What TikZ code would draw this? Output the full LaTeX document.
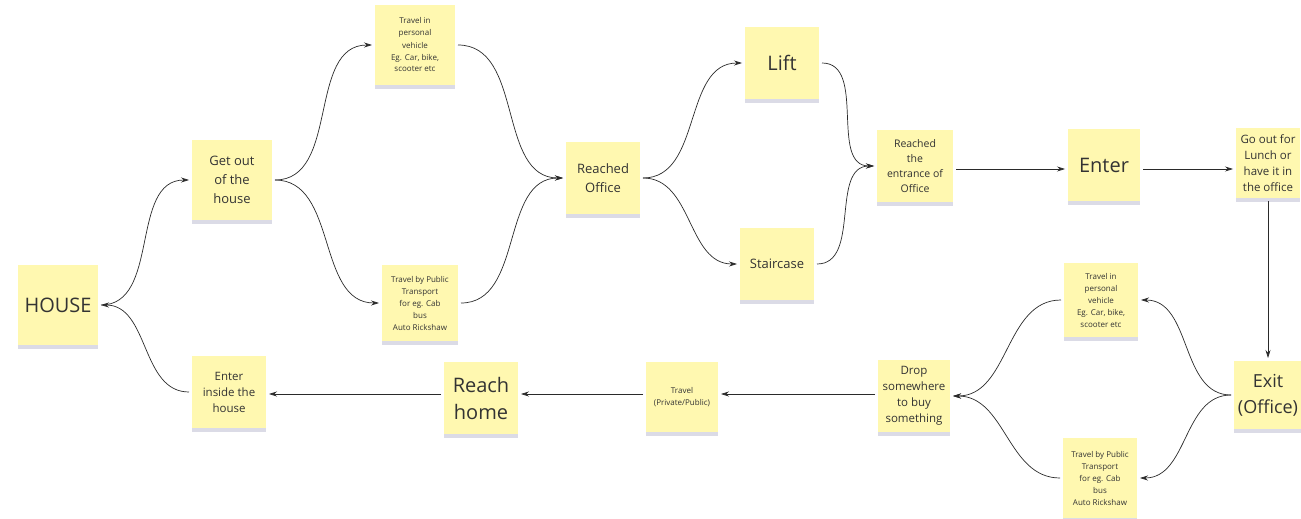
\documentclass[tikz,border=0pt]{standalone}
\usepackage{fontspec}
\setmainfont{Open Sans}
\usetikzlibrary{arrows.meta,shadows}
\definecolor{notefill}{HTML}{FFF8B0}
\definecolor{notetext}{HTML}{333333}
\definecolor{linecol}{HTML}{2A2A2A}
\tikzset{
  note/.style={fill=notefill, draw=none, align=center, text=notetext,
    inner sep=2pt, outer sep=3pt,
    drop shadow={shadow xshift=0pt, shadow yshift=-4pt, fill=black!70!blue, opacity=0.14}},
  fxs/.style={font=\fontsize{8}{12}\selectfont},
  fxm/.style={font=\fontsize{13}{19}\selectfont},
  fxn/.style={font=\fontsize{11.5}{16}\selectfont},
  fxl/.style={font=\fontsize{20}{27}\selectfont},
  conn/.style={draw=linecol, line width=0.7pt, -{Stealth[length=8pt,width=5pt]}},
}
\begin{document}
\begin{tikzpicture}[x=1pt,y=-1pt]
\useasboundingbox (0,0) rectangle (1301,519);
% nodes
\node[note,fxl,minimum width=80pt,minimum height=80pt] (house) at (58,305) {HOUSE};
\node[note,fxm,minimum width=80pt,minimum height=80pt] (getout) at (232,180) {Get out\\of the\\house};
\node[note,fxs,minimum width=80pt,minimum height=80pt] (tpv1) at (415,45) {Travel in\\personal\\vehicle\\Eg. Car, bike,\\scooter etc};
\node[note,fxs,minimum width=76pt,minimum height=76pt] (tpt1) at (420,303) {Travel by Public\\Transport\\for eg. Cab\\bus\\Auto Rickshaw};
\node[note,fxm,minimum width=74pt,minimum height=72pt] (office) at (603,178) {Reached\\Office};
\node[note,fxl,minimum width=74pt,minimum height=72pt] (lift) at (782,63) {Lift};
\node[note,fxm,minimum width=74pt,minimum height=72pt] (stair) at (777,264) {Staircase};
\node[note,font=\fontsize{10.5}{15}\selectfont,minimum width=76pt,minimum height=72pt] (entr) at (915,166) {Reached\\the\\entrance of\\Office};
\node[note,fxl,minimum width=72pt,minimum height=72pt] (enter) at (1104,165) {Enter};
\node[note,fxn,minimum width=64pt,minimum height=70pt] (lunch) at (1268,163) {Go out for\\Lunch or\\have it in\\the office};
\node[note,font=\fontsize{18}{26}\selectfont,minimum width=68pt,minimum height=68pt] (exit) at (1268,395) {Exit\\(Office)};
\node[note,fxs,minimum width=74pt,minimum height=74pt] (tpv2) at (1101,300) {Travel in\\personal\\vehicle\\Eg. Car, bike,\\scooter etc};
\node[note,fxs,minimum width=74pt,minimum height=80pt] (tpt2) at (1100,478) {Travel by Public\\Transport\\for eg. Cab\\bus\\Auto Rickshaw};
\node[note,fxn,minimum width=72pt,minimum height=72pt] (drop) at (914,396) {Drop\\somewhere\\to buy\\something};
\node[note,fxs,minimum width=72pt,minimum height=70pt] (travel) at (682,397) {Travel\\(Private/Public)};
\node[note,fxl,minimum width=74pt,minimum height=72pt] (reach) at (481,398) {Reach\\home};
\node[note,fxn,minimum width=74pt,minimum height=72pt] (einside) at (229,392) {Enter\\inside the\\house};
% connectors
\draw[conn] (house.east) to[out=0,in=180] (getout.west);
\draw[conn] (getout.east) to[out=0,in=180] (tpv1.west);
\draw[conn] (getout.east) to[out=0,in=180] (tpt1.west);
\draw[conn] (tpv1.east) to[out=0,in=180] (office.west);
\draw[conn] (tpt1.east) to[out=0,in=180] (office.west);
\draw[conn] (office.east) to[out=0,in=180] (lift.west);
\draw[conn] (office.east) to[out=0,in=180] (stair.west);
\draw[conn] (lift.east) to[out=0,in=180] (entr.west);
\draw[conn] (stair.east) to[out=0,in=180] (entr.west);
\draw[conn] ([yshift=-3pt]entr.east) -- ([yshift=-3pt]entr.east -| enter.west);
\draw[conn] ([yshift=-3pt]entr.east -| enter.east) -- ([yshift=-3pt]entr.east -| lunch.west);
\draw[conn] (lunch.south) -- (exit.north);
\draw[conn] (exit.west) to[out=180,in=0] (tpv2.east);
\draw[conn] (exit.west) to[out=180,in=0] (tpt2.east);
\draw[conn] (tpv2.west) to[out=180,in=0] (drop.east);
\draw[conn] (tpt2.west) to[out=180,in=0] (drop.east);
\draw[conn] ([yshift=2pt]drop.west) -- ([yshift=2pt]drop.west -| travel.east);
\draw[conn] ([yshift=2pt]drop.west -| travel.west) -- ([yshift=2pt]drop.west -| reach.east);
\draw[conn] ([yshift=2pt]drop.west -| reach.west) -- ([yshift=2pt]drop.west -| einside.east);
\draw[conn] (einside.west) to[out=180,in=0] (house.east);
\end{tikzpicture}
\end{document}
